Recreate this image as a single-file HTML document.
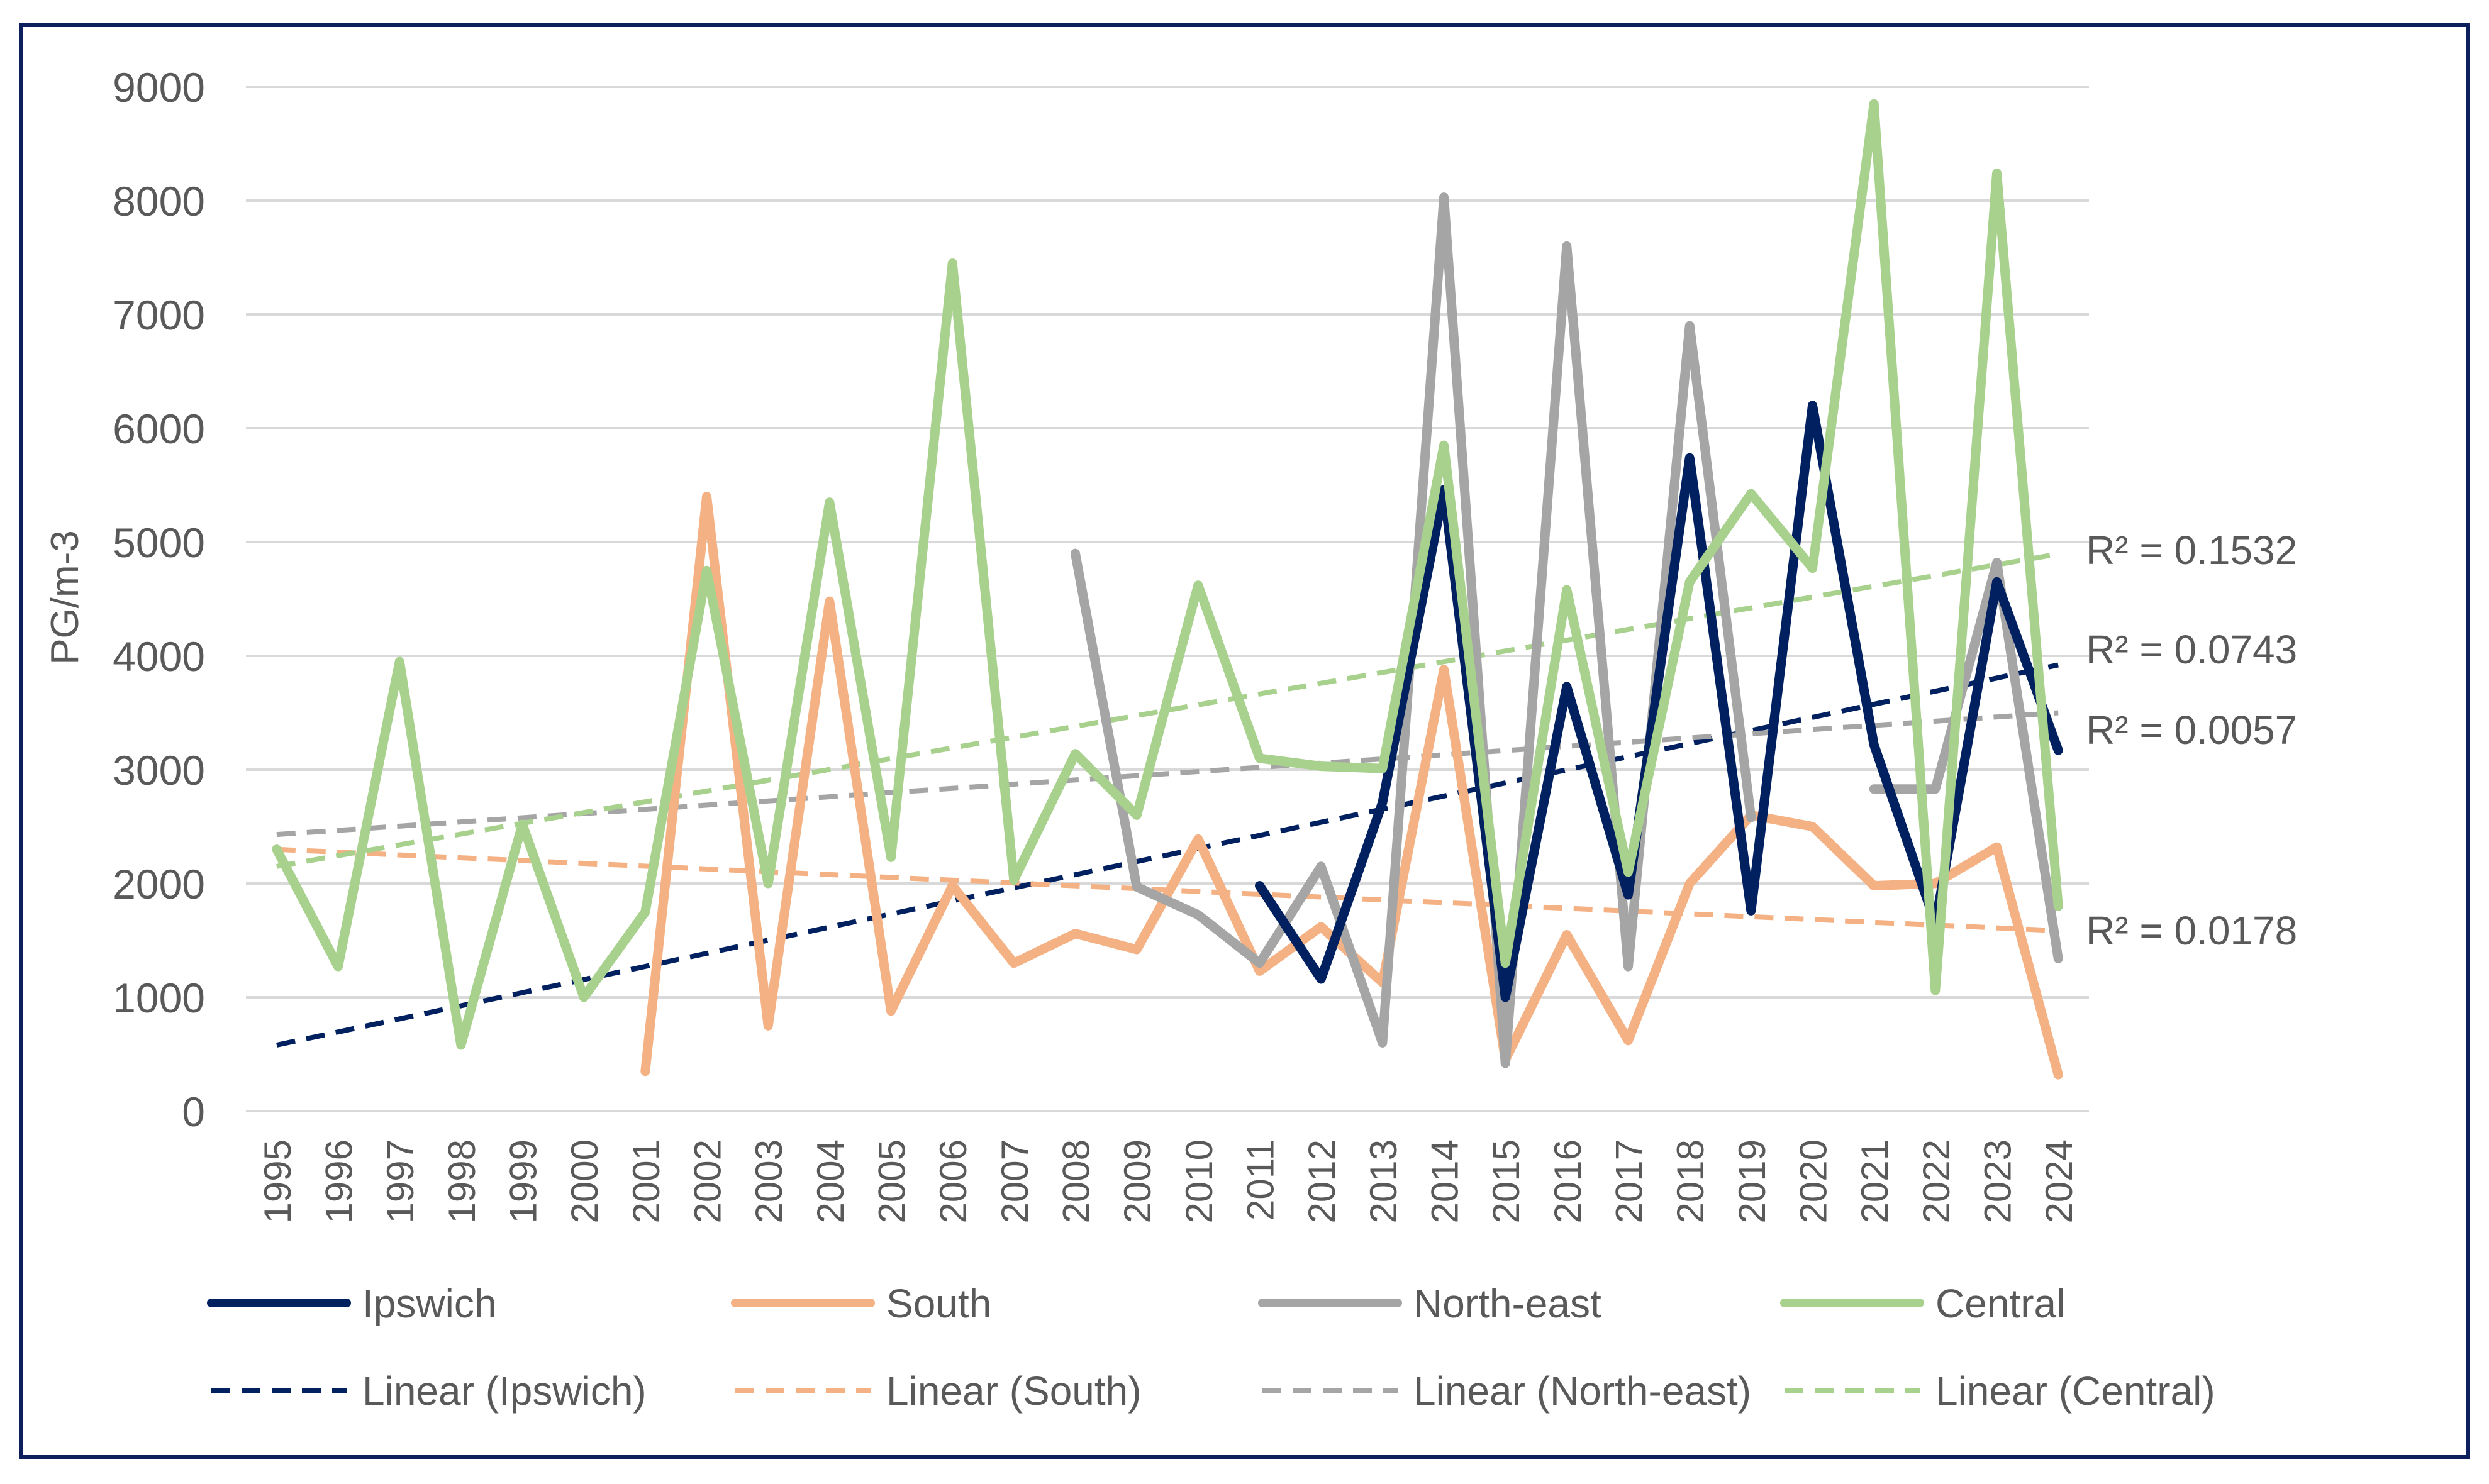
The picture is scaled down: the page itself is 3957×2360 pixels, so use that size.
<!DOCTYPE html>
<html><head><meta charset="utf-8"><style>
html,body{margin:0;padding:0;background:#fff;}
svg{display:block;}
text{font-family:"Liberation Sans",sans-serif;fill:#595959;}
</style></head><body>
<svg id="chart" width="3957" height="2360" viewBox="0 0 3957 2360" xmlns="http://www.w3.org/2000/svg">
<rect x="33" y="40" width="3891" height="2277" fill="#fff" stroke="#0d1f5c" stroke-width="6"/>
<g id="grid"></g>
<g id="yticks"></g>
<g id="xticks"></g>
<text transform="translate(124,950) rotate(-90)" text-anchor="middle" font-size="62">PG/m-3</text>
<g id="trends"></g>
<g id="series"></g>
<g id="r2"></g>
<g id="legend"></g>
</svg>
<script>
var years = [1995,1996,1997,1998,1999,2000,2001,2002,2003,2004,2005,2006,2007,2008,2009,2010,2011,2012,2013,2014,2015,2016,2017,2018,2019,2020,2021,2022,2023,2024];
var yTicks = [0,1000,2000,3000,4000,5000,6000,7000,8000,9000];
var ipswich = [null,null,null,null,null,null,null,null,null,null,null,null,null,null,null,null,1980,1160,2710,5460,1000,3730,1900,5740,1760,6200,3220,1650,4650,3170];
var south = [null,null,null,null,null,null,350,5400,750,4480,880,1980,1300,1560,1420,2390,1230,1620,1130,3880,450,1550,620,2000,2600,2500,1980,2000,2320,320];
var northEast = [null,null,null,null,null,null,null,null,null,null,null,null,null,4900,1970,1725,1300,2150,600,8030,420,7600,1270,6900,2580,null,2830,2830,4820,1340];
var central = [2300,1270,3950,580,2520,1000,1750,4750,2000,5350,2230,7450,2030,3140,2600,4620,3100,3030,3010,5850,1300,4580,2100,4650,5425,4770,8850,1060,8240,1800];
var trendStart = [580,2300,2430,2150];
var trendEnd = [3920,1585,3500,4895];
var r2Labels = ["R² = 0.0743","R² = 0.0178","R² = 0.0057","R² = 0.1532"];
var seriesNames = ["Ipswich","South","North-east","Central"];

var NS="http://www.w3.org/2000/svg";
var colors=["#002060","#F4B183","#A5A5A5","#A9D18E"];
var plotL=391, plotR=3321, y0=1767, yTop=138;
var band=(plotR-plotL)/years.length;
function xs(i){return plotL+band*(i+0.5);}
function ys(v){return y0-(v/9000)*(y0-yTop);}
function mk(tag,attrs,parent){var e=document.createElementNS(NS,tag);for(var k in attrs)e.setAttribute(k,attrs[k]);parent.appendChild(e);return e;}

var grid=document.getElementById('grid'), yt=document.getElementById('yticks'), xt=document.getElementById('xticks');
yTicks.forEach(function(v){
  var l=mk('line',{x1:plotL,x2:plotR,y1:ys(v),y2:ys(v),stroke:'#d9d9d9','stroke-width':4},grid);
  
  
  var t=mk('text',{x:326,y:ys(v)+24,'text-anchor':'end','font-size':66},yt);
  t.textContent=v;
  
  
});
years.forEach(function(y,i){
  var t=mk('text',{transform:'translate('+(xs(i)+22)+',1812) rotate(-90)','text-anchor':'end','font-size':60},xt);
  t.textContent=y;
  
  
});

var tr=document.getElementById('trends');
var n=years.length-1;
for(var s=0;s<4;s++){
  var l=mk('line',{x1:xs(0),y1:ys(trendStart[s]),x2:xs(n),y2:ys(trendEnd[s]),stroke:colors[s],'stroke-width':8,'stroke-dasharray':'30 18'},tr);
  
  
}

var sg=document.getElementById('series');
var data=[ipswich,south,northEast,central];
var drawOrder=[1,2,0,3];
drawOrder.forEach(function(s){
  var d='',pen=false;
  data[s].forEach(function(v,i){
    if(v===null){pen=false;return;}
    d+=(pen?'L':'M')+xs(i).toFixed(1)+' '+ys(v).toFixed(1)+' ';pen=true;
  });
  var p=mk('path',{d:d,fill:'none',stroke:colors[s],'stroke-width':15,'stroke-linejoin':'round','stroke-linecap':'round'},sg);
  
  
});

var rg=document.getElementById('r2');
var rY=[1033,1480,1161,875];
for(var s=0;s<4;s++){
  var t=mk('text',{x:3316,y:rY[s]+22,'font-size':64},rg);
  t.textContent=r2Labels[s];
  
  
}

var lg=document.getElementById('legend');
var lx=[336,1169,2007,2837];
for(var s=0;s<4;s++){
  var a=mk('line',{x1:lx[s],x2:lx[s]+215,y1:2072,y2:2072,stroke:colors[s],'stroke-width':14,'stroke-linecap':'round'},lg);
  
  
  var t=mk('text',{x:lx[s]+240,y:2095,'font-size':64},lg);
  t.textContent=seriesNames[s];
  
  
  var b=mk('line',{x1:lx[s],x2:lx[s]+215,y1:2211,y2:2211,stroke:colors[s],'stroke-width':8,'stroke-dasharray':'30 18'},lg);
  
  
  var t2=mk('text',{x:lx[s]+240,y:2234,'font-size':64},lg);
  t2.textContent='Linear ('+seriesNames[s]+')';
  
  
}
</script>
</body></html>
